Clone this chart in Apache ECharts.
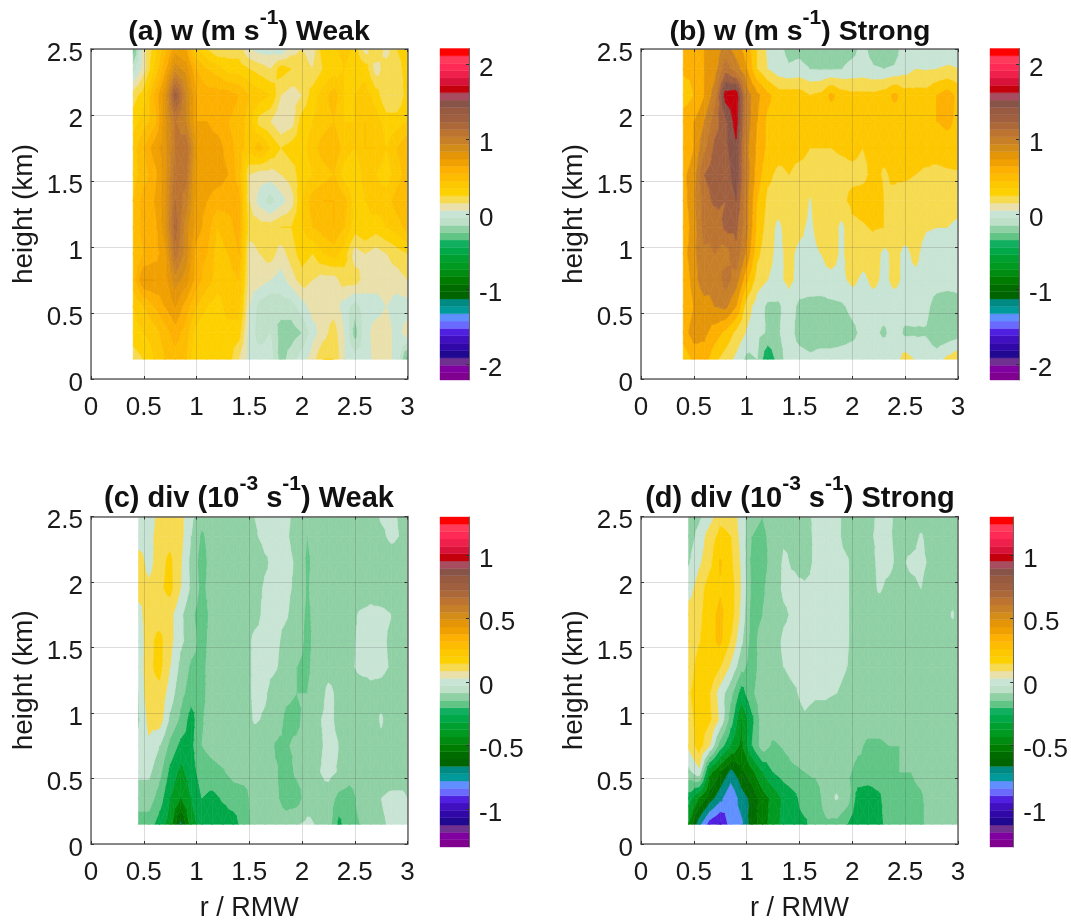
<!DOCTYPE html>
<html><head><meta charset="utf-8">
<style>html,body{margin:0;padding:0;background:#fff}#c{width:1071px;height:923px}</style>
<script src="https://cdn.jsdelivr.net/npm/echarts@6/dist/echarts.min.js"></script>
</head><body><div id="c"></div>
<script>
// Radius columns (r / RMW) and height rows (km)
const rW=[0.4,0.5,0.6,0.7,0.8,0.9,1.0,1.1,1.2,1.3,1.4,1.5,1.6,1.7,1.8,1.9,2.0,2.1,2.2,2.3,2.4,2.5,2.6,2.7,2.8,2.9,3.0];
const rD=[0.45,0.55,0.65,0.75,0.85,0.95,1.05,1.15,1.25,1.35,1.45,1.55,1.65,1.75,1.85,1.95,2.05,2.15,2.25,2.35,2.45,2.55,2.65,2.75,2.85,2.95,3.0];
const heights=[0.15,0.35,0.55,0.75,0.95,1.15,1.35,1.55,1.75,1.95,2.15,2.35,2.5];
// Values x100, rows bottom to top
const wWeak=[
[20,25,35,45,50,45,25,30,30,30,15,0,0,0,-20,-10,0,10,25,25,5,0,-3,10,10,0,-30],
[30,35,40,50,60,50,30,25,30,30,30,0,-10,-5,-20,-20,-15,0,10,20,5,-20,0,10,10,0,10],
[35,45,55,65,75,60,45,35,30,40,40,5,-10,-15,-10,-10,0,10,10,10,0,-10,0,0,5,0,0],
[50,75,75,70,90,80,60,50,40,40,45,10,10,5,0,10,20,15,10,10,20,20,10,10,10,10,15],
[45,55,60,70,110,90,60,55,40,45,55,10,15,20,10,20,30,25,35,40,30,10,15,10,15,20,25],
[45,60,60,80,120,90,70,60,45,50,60,20,20,20,25,25,35,45,50,55,45,30,35,30,35,40,50],
[45,60,65,80,115,100,70,65,60,60,60,15,0,-10,0,10,35,50,55,55,50,30,35,40,40,50,55],
[40,50,60,80,110,110,70,70,70,65,50,15,10,10,15,20,30,35,40,45,30,25,40,35,30,40,50],
[40,55,70,80,105,115,75,70,70,60,50,40,50,35,25,30,30,40,50,55,40,35,45,45,35,45,55],
[30,40,50,80,105,95,65,65,60,55,50,40,20,15,5,10,30,35,40,45,35,35,45,40,30,30,35],
[20,30,55,80,130,95,65,60,60,60,55,45,40,35,15,10,15,30,40,50,35,35,40,30,15,15,30],
[-10,10,35,60,90,80,55,45,40,30,30,25,20,15,30,25,20,15,25,30,35,30,30,10,20,20,30],
[-30,10,30,50,70,65,35,25,15,20,20,5,0,0,-5,10,15,10,30,30,40,30,10,25,10,25,30]];
const wStrong=[
[35,55,60,35,20,5,-15,-10,-50,-20,0,0,-5,0,0,0,0,0,0,8,0,18,8,0,0,15,25],
[60,80,75,60,45,25,8,-5,-12,-12,0,-20,-25,-25,-25,-20,-15,-5,-5,-14,0,-14,-13,-12,-25,-25,-20],
[50,70,80,90,95,70,20,0,-14,-14,0,-15,-18,-20,-15,-13,-5,0,0,0,0,0,0,-5,-20,-25,-20],
[50,80,105,90,120,100,55,20,10,5,15,3,3,5,3,5,15,5,15,5,15,5,5,0,0,0,0],
[60,85,105,110,100,125,85,35,15,5,15,5,5,10,20,5,25,20,20,5,15,5,15,0,0,0,0],
[55,80,120,110,135,135,95,45,20,5,20,15,5,20,20,5,25,28,32,30,20,20,20,12,10,10,5],
[60,85,120,135,130,150,95,50,25,20,30,25,8,25,25,25,35,38,40,30,25,20,22,20,20,20,20],
[65,80,130,140,135,165,100,60,35,25,30,25,25,25,25,25,25,25,35,28,33,33,30,28,25,27,28],
[50,70,105,135,145,165,95,65,45,40,35,35,30,30,30,32,35,30,35,35,38,38,35,35,38,40,40],
[65,70,90,120,145,180,100,70,45,40,50,40,40,35,35,38,38,38,38,38,38,40,40,45,50,55,45],
[35,50,70,100,180,185,100,75,55,40,40,40,30,35,55,40,35,35,35,40,55,40,38,38,50,60,45],
[55,55,70,80,120,100,70,30,10,-3,-8,-5,-10,-12,-12,-10,-5,-3,-8,-10,-8,0,10,8,10,12,10],
[50,60,70,75,100,80,60,30,5,-5,-15,-15,-22,-22,-22,-18,-15,-5,-18,-22,-18,0,0,0,0,0,5]];
const divWeak=[
[-20,-20,-30,-40,-68,-40,-30,-30,-30,-30,-20,-12,-10,-10,-10,-6,-3,-6,-10,-28,-18,-15,-10,-6,-4,-3,-3],
[-10,-10,-20,-35,-45,-35,-25,-28,-24,-20,-20,-10,-10,-13,-20,-20,-10,-8,-10,-18,-20,-12,-10,-5,-3,-3,-5],
[-3,-3,-12,-28,-38,-30,-20,-18,-16,-12,-10,-10,-10,-14,-20,-13,-10,-6,-2,-6,-10,-10,-10,-10,-10,-10,-10],
[-3,3,-5,-18,-28,-28,-15,-12,-10,-10,-10,-10,-10,-16,-16,-13,-10,-7,-3,-5,-10,-10,-10,-7,-10,-10,-10],
[-6,8,10,-7,-17,-30,-16,-10,-10,-10,-10,-4,-6,-10,-17,-18,-10,-6,-3,-7,-10,-10,-10,-4,-10,-10,-10],
[-5,12,12,0,-12,-20,-18,-10,-10,-10,-10,-3,-4,-10,-13,-15,-15,-10,-3,-7,-10,-10,-7,-8,-10,-10,-10],
[-3,13,18,5,-8,-17,-18,-10,-10,-10,-10,-3,-3,-4,-10,-15,-17,-10,-8,-8,-7,-3,-3,-3,-6,-10,-10],
[-3,12,18,8,-3,-10,-20,-10,-10,-10,-10,-3,-3,-3,-8,-10,-18,-10,-10,-10,-8,-3,-3,-3,-7,-10,-10],
[0,12,10,8,-3,-13,-20,-12,-10,-10,-10,-8,-3,-3,-4,-10,-17,-11,-10,-10,-8,-4,-3,-3,-5,-10,-10],
[10,8,13,18,5,-7,-18,-10,-10,-10,-10,-8,-4,-3,-3,-7,-16,-10,-10,-10,-10,-10,-8,-10,-10,-10,-10],
[12,0,12,17,6,-8,-20,-10,-10,-10,-10,-10,-6,-3,-3,-6,-17,-10,-10,-10,-10,-10,-10,-10,-10,-10,-10],
[-3,0,11,12,8,-5,-17,-10,-10,-10,-10,-6,-3,-3,-4,-8,-15,-10,-10,-10,-10,-10,-10,-7,-3,-6,-10],
[-4,-3,10,10,8,-3,-10,-10,-10,-10,-10,-5,-3,-3,-3,-8,-10,-10,-10,-10,-10,-10,-10,-4,-3,-7,-10]];
const divStrong=[
[-45,-72,-90,-97,-80,-78,-60,-50,-40,-32,-28,-27,-20,-17,-18,-25,-32,-32,-29,-20,-17,-17,-16,-13,-10,-10,-10],
[-30,-45,-60,-72,-85,-70,-62,-50,-42,-33,-28,-20,-22,-10,-4,-10,-30,-33,-28,-17,-25,-17,-16,-12,-10,-12,-14],
[-8,2,-42,-55,-68,-58,-48,-35,-25,-20,-17,-15,-13,-10,-10,-13,-18,-17,-17,-16,-15,-15,-13,-10,-10,-12,-15],
[7,20,5,-20,-35,-48,-25,-10,-17,-14,-10,-10,-10,-10,-10,-10,-13,-17,-17,-15,-15,-15,-10,-10,-10,-10,-10],
[10,20,17,3,-20,-45,-28,-10,-8,-8,-8,-6,-8,-8,-10,-10,-10,-10,-10,-10,-10,-10,-10,-10,-10,-10,-10],
[13,22,15,0,-12,-30,-17,-9,-8,-8,-6,-3,-4,-4,-5,-7,-10,-10,-10,-10,-10,-10,-10,-10,-10,-10,-10],
[8,20,24,15,3,-12,-20,-10,-7,-5,-3,-3,-3,-3,-3,-5,-10,-10,-10,-10,-10,-10,-10,-10,-10,-10,-10],
[7,14,22,27,14,-3,-20,-10,-8,-4,-3,-3,-3,-3,-3,-4,-10,-10,-10,-10,-10,-10,-10,-10,-10,-10,-10],
[10,12,22,27,20,2,-20,-15,-10,-6,-4,-3,-3,-3,-3,-4,-10,-10,-10,-8,-5,-6,-10,-10,-10,-4,-10],
[0,10,20,24,20,4,-18,-17,-8,-4,-3,-3,-3,-3,-3,-4,-10,-10,-4,-7,-10,-8,-5,-10,-10,-10,-10],
[-6,3,12,26,17,3,-19,-20,-10,-4,-6,-10,-3,-3,-3,-4,-10,-10,-3,-3,-8,-3,-3,-7,-10,-10,-10],
[-10,-2,10,18,15,1,-15,-17,-12,-6,-6,-10,-3,-3,-3,-8,-10,-7,-3,-4,-8,-10,-4,-10,-10,-10,-10],
[-10,-7,0,12,11,0,-13,-15,-10,-10,-7,-8,-3,-3,-3,-8,-10,-9,-3,-3,-10,-10,-10,-10,-10,-10,-10]];
// Colour bands from -22 (bottom) to +22 (top) of the colour bar
const bandColors=['#800090','#8000a0','#703090','#200890','#3008a8','#4010c0','#5020e0','#6a6aff','#6090ff','#009a9a','#008a84','#006400','#006c00','#007c00','#008c10','#009a20','#00a030','#00a848','#10b060','#60c585','#90d0a5','#bfe0c8',
'#c8e4d4','#e9e0ab','#f6da50','#fdd000','#fdc800','#fdbc00','#fdb000','#f0a000','#e49608','#d48c18','#c88028','#bc7430','#ac6838','#a06040','#985a40','#885448','#a84c60','#c4000c','#d81238','#f0204c','#ff2a55','#ff3a5a','#ff0000'];
const panelTitles=[['(a) w (m s','-1',') Weak'],['(b) w (m s','-1',') Strong'],['(c) div (10','-3',' s','-1',') Weak'],['(d) div (10','-3',' s','-1',') Strong']];
const wTicks=[-2,-1,0,1,2], divTicks=[-1,-0.5,0,0.5,1];
const xTicksMax=3, yTicksMax=2.5;

const font='"Liberation Sans",Arial,sans-serif', ink='#1a1a1a', frame='#666';
const panels=[
 {vals:wWeak,r:rW,step:0.1,cstep:0.0982,lim:2.21,ticks:wTicks,l:91,w:316.5,t:49,h:330,cl:440,cw:29,ct:48.5,ch:331.5,tx:244,ty:3},
 {vals:wStrong,r:rW,step:0.2,cstep:0.105,lim:2.21,ticks:wTicks,l:641,w:317,t:49,h:330,cl:990,cw:29,ct:48.5,ch:331.5,tx:795,ty:3},
 {vals:divWeak,r:rD,step:0.1,cstep:0.0578,lim:1.3,ticks:divTicks,l:91,w:316.5,t:516.5,h:329.5,cl:440,cw:29,ct:517,ch:330,tx:244,ty:469,xn:1},
 {vals:divStrong,r:rD,step:0.1,cstep:0.0578,lim:1.3,ticks:divTicks,l:641,w:317,t:516.5,h:329.5,cl:990,cw:29,ct:517,ch:330,tx:795,ty:469,xn:1}
];
function bandColor(v,cstep){let k=Math.round(v/cstep);k=Math.max(-22,Math.min(22,k));return bandColors[k+22];}
function clip(poly,lev,keepAbove){
  const out=[];
  for(let i=0;i<poly.length;i++){
    const a=poly[i],b=poly[(i+1)%poly.length];
    const ina=keepAbove?a[2]>=lev:a[2]<=lev, inb=keepAbove?b[2]>=lev:b[2]<=lev;
    if(ina)out.push(a);
    if(ina!==inb){const t=(lev-a[2])/(b[2]-a[2]);out.push([a[0]+t*(b[0]-a[0]),a[1]+t*(b[1]-a[1]),lev]);}
  }
  return out;
}
function makeRender(p){
  const V=p.vals.map(row=>row.map(x=>x/100));
  return function(params,api){
    const i=api.value(2),j=api.value(3);
    const x0=p.r[i],x1=p.r[i+1],y0=heights[j],y1=heights[j+1];
    const A=[x0,y0,V[j][i]],B=[x1,y0,V[j][i+1]],C=[x1,y1,V[j+1][i+1]],D=[x0,y1,V[j+1][i]];
    const M=[(x0+x1)/2,(y0+y1)/2,(A[2]+B[2]+C[2]+D[2])/4];
    const children=[];
    [[A,B,M],[B,C,M],[C,D,M],[D,A,M]].forEach(tri=>{
      const vs=tri.map(q=>q[2]);
      const nLo=Math.round(Math.min(...vs)/p.step),nHi=Math.round(Math.max(...vs)/p.step);
      for(let n=nLo;n<=nHi;n++){
        let poly=clip(tri,(n-0.5)*p.step,true);
        if(poly.length)poly=clip(poly,(n+0.5)*p.step,false);
        if(poly.length<3)continue;
        const col=bandColor(n*p.step,p.cstep);
        children.push({type:'polygon',shape:{points:poly.map(q=>api.coord([q[0],q[1]]))},style:{fill:col,stroke:col,lineWidth:0.6}});
      }
    });
    return {type:'group',children};
  };
}
const grid=[],xAxis=[],yAxis=[],series=[],title=[];
const tickStyle={show:true,inside:true,length:3,lineStyle:{color:'#333',width:1}};
panels.forEach((p,idx)=>{
  const g=grid.length;
  grid.push({left:p.l,top:p.t,width:p.w,height:p.h,containLabel:false});
  const xi=xAxis.length, yi=yAxis.length;
  const lab={color:ink,fontSize:26,fontFamily:font};
  const shifted={formatter:'{v|{value}}',rich:{v:{color:ink,fontSize:26,fontFamily:font,padding:[9,0,0,0]}}};
  xAxis.push({type:'value',gridIndex:g,min:0,max:xTicksMax,interval:0.5,z:5,position:'bottom',
    axisLine:{show:true,onZero:false,lineStyle:{color:frame,width:1.5}},axisTick:tickStyle,
    axisLabel:Object.assign({margin:16,hideOverlap:false,showMinLabel:true,showMaxLabel:true},lab),
    splitLine:{show:true,lineStyle:{color:'rgba(60,60,60,0.18)',width:1}},
    name:p.xn?'r / RMW':'',nameLocation:'middle',nameGap:51,nameTextStyle:{color:ink,fontSize:27,fontFamily:font}});
  xAxis.push({type:'value',gridIndex:g,min:0,max:xTicksMax,interval:0.5,z:5,position:'top',
    axisLine:{show:true,onZero:false,lineStyle:{color:frame,width:1.5}},axisTick:tickStyle,axisLabel:{show:false},splitLine:{show:false}});
  yAxis.push({type:'value',gridIndex:g,min:0,max:yTicksMax,interval:0.5,z:5,position:'left',
    axisLine:{show:true,onZero:false,lineStyle:{color:frame,width:1.5}},axisTick:tickStyle,
    axisLabel:Object.assign({margin:8,showMinLabel:true,showMaxLabel:true},shifted),
    splitLine:{show:true,lineStyle:{color:'rgba(60,60,60,0.18)',width:1}},
    name:'height (km)',nameLocation:'middle',nameGap:53,nameTextStyle:{color:ink,fontSize:28,fontFamily:font}});
  yAxis.push({type:'value',gridIndex:g,min:0,max:yTicksMax,interval:0.5,z:5,position:'right',
    axisLine:{show:true,onZero:false,lineStyle:{color:frame,width:1.5}},axisTick:tickStyle,axisLabel:{show:false},splitLine:{show:false}});
  const cells=[];
  for(let j=0;j<heights.length-1;j++)for(let i=0;i<p.r.length-1;i++)cells.push([p.r[i],heights[j],i,j]);
  series.push({type:'custom',xAxisIndex:xi,yAxisIndex:yi,silent:true,animation:false,clip:true,z:2,
    encode:{x:0,y:1},data:cells,renderItem:makeRender(p)});
  // colour bar
  const gc=grid.length;
  grid.push({left:p.cl,top:p.ct,width:p.cw,height:p.ch,show:false});
  const cxi=xAxis.length,cyi=yAxis.length;
  xAxis.push({type:'value',gridIndex:gc,min:0,max:1,show:false});
  yAxis.push({type:'value',gridIndex:gc,min:-p.lim,max:p.lim,position:'right',z:5,
    axisLine:{show:true,onZero:false,lineStyle:{color:frame,width:1}},
    axisTick:{show:true,inside:true,length:3,customValues:p.ticks,lineStyle:{color:'#333'}},
    axisLabel:Object.assign({margin:10,customValues:p.ticks},shifted),splitLine:{show:false}});
  const bw=2*p.lim/45;
  const bars=bandColors.map((c,k)=>[-p.lim+k*bw,-p.lim+(k+1)*bw,k]);
  series.push({type:'custom',xAxisIndex:cxi,yAxisIndex:cyi,silent:true,animation:false,z:2,encode:{y:[0,1]},data:bars,
    renderItem:(params,api)=>{
      const a=api.coord([0,api.value(0)]),b=api.coord([1,api.value(1)]);
      const col=bandColors[api.value(2)];
      return {type:'rect',shape:{x:a[0],y:b[1],width:b[0]-a[0],height:a[1]-b[1]},style:{fill:col,stroke:col,lineWidth:0.4}};
    }});
  // title with superscripts
  const t=panelTitles[idx];
  const text=t.map((s,q)=>q%2? '{sup|'+s+'}' : '{main|'+s+'}').join('');
  title.push({text,left:p.tx,top:p.ty,textAlign:'center',
    textStyle:{rich:{
      main:{fontSize:idx<2?28.5:29,fontWeight:'bold',fontFamily:font,color:'#111'},
      sup:{fontSize:21,fontWeight:'bold',fontFamily:font,color:'#111',padding:[0,0,28,0]}}}});
});
const chart=echarts.init(document.getElementById('c'),null,{renderer:'canvas'});
chart.setOption({animation:false,backgroundColor:'#fff',title,grid,xAxis,yAxis,series});
</script></body></html>
